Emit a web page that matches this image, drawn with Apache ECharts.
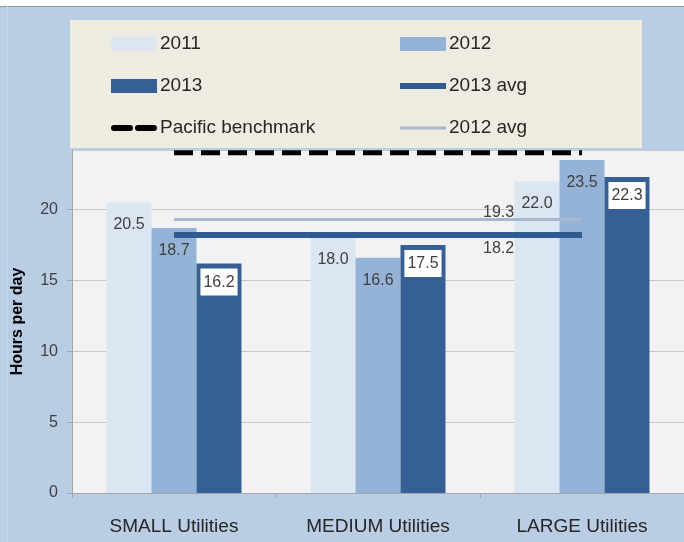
<!DOCTYPE html>
<html>
<head>
<meta charset="utf-8">
<script src="https://cdn.jsdelivr.net/npm/echarts@6/dist/echarts.min.js"></script>
<style>
  html, body { margin: 0; padding: 0; background: #fff; }
  #chart { width: 684px; height: 542px; }
</style>
</head>
<body>
<div id="chart"></div>
<script>
const categories = ['SMALL Utilities', 'MEDIUM Utilities', 'LARGE Utilities']
const hours2011 = [20.5, 18.0, 22.0]
const hours2012 = [18.7, 16.6, 23.5]
const hours2013 = [16.2, 17.5, 22.3]
const avg2012 = [19.3, 19.3, 19.3]
const avg2013 = [18.2, 18.2, 18.2]
const pacificBenchmark = [24, 24, 24]

const FONT = '"Liberation Sans", Arial, sans-serif'
const TEXT = '#404040'

// legend icons: the moveTo points at the corners keep the 46x14 box
const ICON_THICK = 'path://M0,0M0,4L46,4L46,10L0,10ZM46,14'
const ICON_THIN = 'path://M0,0M0,5.5L46,5.5L46,8.5L0,8.5ZM46,14'
const ICON_DASH = 'path://M0,0M3,4L19,4A3,3 0 0 1 19,10L3,10A3,3 0 0 1 3,4ZM27,4L43,4A3,3 0 0 1 43,10L27,10A3,3 0 0 1 27,4ZM46,14'

const chart = echarts.init(document.getElementById('chart'), null, { renderer: 'canvas' })

const fmt = (p) => Number(p.value).toFixed(1)

chart.setOption({
  backgroundColor: '#b9cde5',
  animation: false,
  textStyle: { fontFamily: FONT },
  graphic: [
    { type: 'rect', shape: { x: 0, y: 0, width: 684, height: 6 }, style: { fill: '#ffffff' }, z: 0 },
    { type: 'line', shape: { x1: 0, y1: 6.5, x2: 684, y2: 6.5 }, style: { stroke: '#8d98a6', lineWidth: 1 }, z: 0 },
    { type: 'line', shape: { x1: 7.5, y1: 6, x2: 7.5, y2: 542 }, style: { stroke: '#c9d7ea', lineWidth: 1 }, z: 0 },
    { type: 'rect', shape: { x: 70, y: 20, width: 572, height: 128 }, style: { fill: '#eeece1' }, z: 0 },
  ],
  legend: {
    left: 111,
    top: 32,
    width: 600,
    padding: 0,
    itemWidth: 46,
    itemHeight: 14,
    itemGap: 18,
    textStyle: { fontFamily: FONT, fontSize: 19, color: '#262626', width: 222, lineHeight: 24, padding: [0, 0, 0, -2] },
    data: [
      { name: '2011', icon: 'rect' },
      { name: '2012', icon: 'rect' },
      { name: '2013', icon: 'rect' },
      { name: '2013 avg', icon: ICON_THICK },
      { name: 'Pacific benchmark', icon: ICON_DASH },
      { name: '2012 avg', icon: ICON_THIN },
    ],
  },
  grid: {
    left: 72, right: -4, top: 150, bottom: 49,
    show: true, backgroundColor: '#f2f2f2', borderWidth: 0,
  },
  xAxis: {
    type: 'category',
    data: categories,
    axisLine: { lineStyle: { color: '#a6a6a6', width: 1 } },
    axisTick: { show: true, length: 5, lineStyle: { color: '#a6a6a6' } },
    axisLabel: { fontFamily: FONT, fontSize: 19, color: '#262626', margin: 24, interval: 0 },
  },
  yAxis: {
    type: 'value',
    min: 0,
    max: 24.2,
    interval: 5,
    name: 'Hours per day',
    nameLocation: 'middle',
    nameGap: 46,
    nameTextStyle: { fontFamily: FONT, fontSize: 16, fontWeight: 'bold', color: '#000' },
    axisLine: { show: true, lineStyle: { color: '#a6a6a6' } },
    axisTick: { show: true, length: 5, lineStyle: { color: '#a6a6a6' } },
    axisLabel: { fontFamily: FONT, fontSize: 16, color: TEXT, margin: 14, showMaxLabel: false },
    splitLine: { lineStyle: { color: '#c8c8c8', width: 1 } },
  },
  series: [
    {
      name: '2011', type: 'bar', data: hours2011, barWidth: 45, barGap: '0%',
      itemStyle: { color: '#dce6f2' },
      label: { show: true, position: 'insideTop', distance: 14, formatter: fmt, fontFamily: FONT, fontSize: 16, color: TEXT },
    },
    {
      name: '2012', type: 'bar', data: hours2012, barWidth: 45, barGap: '0%',
      itemStyle: { color: '#95b3d7' },
      label: { show: true, position: 'insideTop', distance: 15, formatter: fmt, fontFamily: FONT, fontSize: 16, color: TEXT },
    },
    {
      name: '2013', type: 'bar', data: hours2013, barWidth: 45, barGap: '0%',
      itemStyle: { color: '#355f95' },
      label: {
        show: true, position: 'insideTop', distance: 5, formatter: fmt,
        fontFamily: FONT, fontSize: 16, color: TEXT,
        backgroundColor: '#ffffff', padding: [6, 3, 5, 3],
      },
    },
    {
      name: '2012 avg', type: 'line', data: avg2012, symbol: 'none',
      lineStyle: { color: '#a7b8cf', width: 3 },
      itemStyle: { color: '#a7b8cf' },
      endLabel: { show: true, formatter: fmt, offset: [-107, -7], fontFamily: FONT, fontSize: 16, color: TEXT },
      z: 3,
    },
    {
      name: '2013 avg', type: 'line', data: avg2013, symbol: 'none',
      lineStyle: { color: '#2f5b91', width: 6 },
      itemStyle: { color: '#2f5b91' },
      endLabel: { show: true, formatter: fmt, offset: [-107, 14], fontFamily: FONT, fontSize: 16, color: TEXT },
      z: 3,
    },
    {
      name: 'Pacific benchmark', type: 'line', data: pacificBenchmark, symbol: 'none',
      lineStyle: { color: '#000000', width: 5, type: [19, 8] },
      itemStyle: { color: '#000000' },
      z: 3,
    },
  ],
})
</script>
</body>
</html>
